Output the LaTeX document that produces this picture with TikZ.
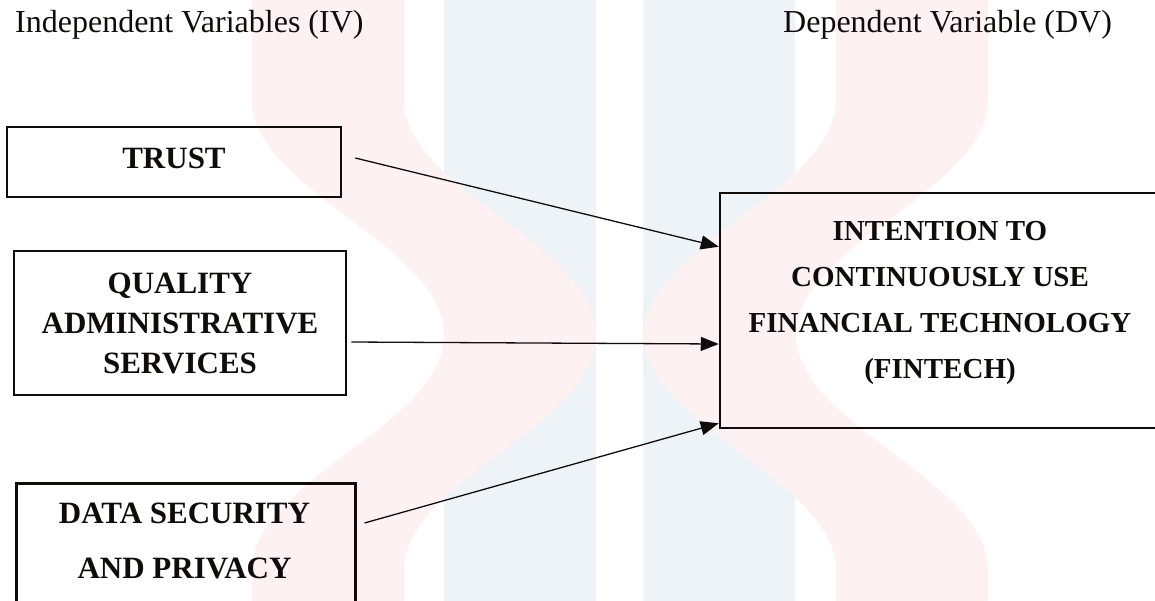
\documentclass[tikz,border=0pt]{standalone}
\usepackage{fontspec}
\setmainfont{Liberation Serif}
\usetikzlibrary{arrows.meta,calc}
\definecolor{wmpink}{RGB}{254,241,241}
\definecolor{wmblue}{RGB}{238,243,248}
\definecolor{ink}{RGB}{17,12,12}
\begin{document}
\begin{tikzpicture}[x=1pt,y=-1pt,
  boxstyle/.style={draw=ink, line width=2.5pt, inner sep=0pt},
  boxfont/.style={font=\fontsize{31}{40}\selectfont\bfseries, text=ink},
  dvfont/.style={font=\fontsize{29}{46.3}\selectfont\bfseries, text=ink, align=center, inner sep=0pt},
  headfont/.style={font=\fontsize{32}{38}\selectfont, text=ink, inner sep=0pt, anchor=base west},
  conn/.style={draw=ink, line width=1.3pt, -{Triangle[length=18pt,width=14pt]}}
]
\clip (0,0) rectangle (1155,600);
\fill[white] (0,0) rectangle (1155,600);
% watermark
\fill[wmblue] (444,-5) rectangle (596,605);
\fill[wmblue] (643,-5) rectangle (795,605);
\fill[wmpink] (252,-5) -- (252,100) .. controls (252,190) and (444,245) .. (444,335)
  .. controls (444,425) and (252,480) .. (252,570) -- (252,605) -- (404,605) -- (404,570)
  .. controls (404,480) and (596,425) .. (596,335) .. controls (596,245) and (404,190) .. (404,100)
  -- (404,-5) -- cycle;
\fill[wmpink] (988,-5) -- (988,100) .. controls (988,190) and (796,245) .. (796,335)
  .. controls (796,425) and (988,480) .. (988,570) -- (988,605) -- (836,605) -- (836,570)
  .. controls (836,480) and (644,425) .. (644,335) .. controls (644,245) and (836,190) .. (836,100)
  -- (836,-5) -- cycle;
% headers
\node[headfont] (ivlabel) at (15,32) {Independent Variables (IV)};
\node[headfont] (dvlabel) at (783,32) {Dependent Variable (DV)};
% boxes
\node[boxstyle, boxfont, minimum width=334pt, minimum height=70pt, text height=21pt, text depth=8pt] (trust) at (174,162) {TRUST};
\node[boxstyle, boxfont, align=center, minimum width=332pt, minimum height=144pt] (quality) at (180,323) {QUALITY\\ADMINISTRATIVE\\SERVICES};
\node[boxstyle, minimum width=339pt, minimum height=170pt, anchor=north west] (databox) at (15,482) {};
\node[boxfont, font=\fontsize{31}{55}\selectfont\bfseries, align=center, inner sep=0pt] (datatext) at (184.5,540.5) {DATA SECURITY\\AND PRIVACY};
\node[boxstyle, minimum width=437pt, minimum height=235pt] (dv) at (938.5,310.5) {};
\node[dvfont] (dvtext) at (940,303) {INTENTION TO\\CONTINUOUSLY USE\\FINANCIAL TECHNOLOGY\\(FINTECH)};
% connectors
\coordinate (a1s) at ([xshift=13pt,yshift=4pt]trust.east);
\coordinate (a1e) at ([yshift=-55pt]dv.north west);
\coordinate (a2s) at ([xshift=4pt,yshift=-19pt]quality.east);
\coordinate (a2e) at ([yshift=-33.5pt]dv.west);
\coordinate (a3s) at ([xshift=8pt,yshift=-41pt]databox.north east);
\coordinate (a3e) at ([yshift=6pt]dv.south west);
\draw[conn] (a1s) -- (a1e);
\draw[conn] (a2s) -- (a2e);
\draw[conn] (a3s) -- (a3e);
\end{tikzpicture}
\end{document}
